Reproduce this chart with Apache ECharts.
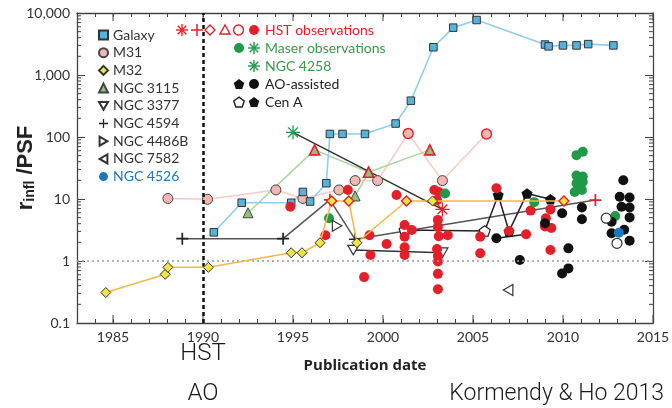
<!DOCTYPE html>
<html>
<head>
<meta charset="utf-8">
<script src="https://cdn.jsdelivr.net/npm/echarts@6/dist/echarts.min.js"></script>
<style>
  html, body { margin: 0; padding: 0; background: #fff; }
  #chart { width: 672px; height: 408px; }
</style>
</head>
<body>
<div id="chart"></div>
<script>
// ---------- axis labels ----------
const xTickLabels = [1985, 1990, 1995, 2000, 2005, 2010, 2015];
const yTickLabels = ['0.1', '1', '10', '100', '1,000', '10,000'];
const X_MIN = 1983, X_MAX = 2015, Y_MIN = 0.1, Y_MAX = 10000;

// ---------- r_infl / PSF by publication date ----------
const galaxy = [[1990.6, 2.9], [1992.15, 8.7], [1994.9, 8.7], [1995.55, 13], [1995.95, 9.1],
  [1996.85, 18], [1997.05, 112], [1997.75, 112], [1999.0, 112], [2000.7, 165], [2001.55, 385],
  [2002.8, 2800], [2003.9, 5800], [2005.2, 7700], [2009.0, 3100], [2009.2, 2900],
  [2010.0, 3000], [2010.75, 3000], [2011.4, 3150], [2012.8, 3000]];

const m31 = [[1988.05, 10.2], [1990.25, 9.9], [1994.05, 14], [1995.55, 10.2], [1997.55, 14],
  [1998.45, 19.8], [1999.7, 19.8], [2001.4, 114], [2003.3, 19.8], [2005.75, 112]];
const m31Hst = [2001.4, 2005.75];

const m32 = [[1984.6, 0.31], [1987.9, 0.61], [1988.05, 0.79], [1990.3, 0.79], [1994.9, 1.36],
  [1995.5, 1.36], [1996.5, 1.97], [1997.15, 9.3], [1998.1, 9.3], [1998.55, 1.97],
  [2001.3, 9.3], [2002.75, 9.3], [2010.05, 9.3]];
const m32Hst = [1997.15, 1998.1, 2001.3, 2010.05];

const ngc3115 = [[1992.5, 6.0], [1996.2, 62], [1999.2, 27], [2002.6, 62]];
const ngc3115b = [[1998.45, 11.2], [1999.2, 27]];
const ngc3115Hst = [1996.2, 1999.2, 2002.6];

const ngc3377 = [[1998.35, 1.5], [2003.3, 1.36]];

const ngc4594 = [[1988.85, 2.29], [1994.45, 2.29], [1997.05, 9.7], [1998.45, 2.24], [2011.8, 9.6]];
const ngc4594Hst = [1997.05, 2011.8];

const ngc4486b = [[1997.45, 3.7]];
const ngc7582 = [[2006.95, 0.34]];
const ngc4526 = [[2013.1, 2.85]];

const ngc4258 = [[1995.0, 119], [2003.3, 6.8]];
const ngc4258Hst = [2003.3];

const cenA = [[2001.2, 3.16], [2005.65, 3.05], [2006.4, 11.6], [2007.0, 3.0], [2008.0, 12.3], [2009.3, 9.9]];
const cenAOpen = [2001.2, 2005.65];

const hstPoints = [[1994.85, 7.5], [1996.8, 2.6], [1998.05, 14], [1999.25, 2.6], [2000.2, 1.88],
  [1999.3, 1.25], [1998.95, 0.55], [2000.75, 11.6], [2001.2, 3.8], [2001.6, 3.16],
  [2001.2, 2.47], [2001.2, 1.66], [2001.2, 1.25], [2002.85, 14], [2003.1, 13], [2003.0, 9.6],
  [2003.05, 4.6], [2003.05, 3.55], [2003.1, 2.5], [2003.6, 2.6], [2003.0, 1.56], [2003.05, 1.2],
  [2003.05, 0.98], [2003.05, 0.62], [2003.05, 0.35], [2005.4, 2.47], [2005.4, 1.33],
  [2006.3, 14.9], [2007.0, 3.05], [2007.95, 2.7], [2008.2, 6.5], [2009.3, 6.8], [2009.05, 4.9],
  [2009.0, 3.6], [2009.35, 3.4], [2009.3, 1.5]];

const maserPoints = [[1997.0, 4.9], [2003.45, 12.3], [2008.4, 8.9], [2010.75, 51], [2011.1, 58],
  [2010.75, 24], [2011.1, 23], [2010.75, 18], [2011.1, 19], [2010.65, 13], [2011.05, 14],
  [2012.9, 5.3]];

const aoPoints = [[2006.3, 2.33], [2007.6, 1.04], [2009.0, 4.05], [2009.95, 5.9], [2010.3, 1.6],
  [2009.95, 0.63], [2010.3, 0.76], [2011.05, 7.3], [2011.05, 4.7], [2013.35, 20], [2013.15, 10.9],
  [2013.7, 10.6], [2013.25, 7.5], [2013.7, 7.3], [2013.7, 5.05], [2012.7, 4.3], [2013.4, 3.2],
  [2012.7, 2.8], [2013.7, 2.13]];
// one object followed from an AO measurement to a later HST one
const aoFollowUp = [[2006.3, 2.33], [2007.95, 2.7]];

const aoOpen = [[2012.4, 4.9], [2013.0, 1.93]];

// ---------- styles ----------
const FONT = 'Lato, "Open Sans", sans-serif';
const AXIS = '#444';
const RED = '#e3202a';
const GREEN = '#1e9a48';
const BLUE = '#1b78bf';
const INK = '#222';

const PLUS = 'path://M4.3,0h1.4v4.3h4.3v1.4h-4.3v4.3h-1.4v-4.3h-4.3v-1.4h4.3z';
const STAR = 'path://M9.1,0H10.9V20H9.1Z M0,9.1H20V10.9H0Z M2.3,3.6L3.6,2.3L17.7,16.4L16.4,17.7Z M16.4,2.3L17.7,3.6L3.6,17.7L2.3,16.4Z';
const PENT = 'path://M10,0L19.5,6.9L15.9,18.1L4.1,18.1L0.5,6.9Z';
const TRI_DOWN = 'path://M0,0L20,0L10,17.3Z';
const TRI_RIGHT = 'path://M0,0L17.3,10L0,20Z';
const TRI_LEFT = 'path://M17.3,0L0,10L17.3,20Z';

const tagged = (pts, years, style) =>
  pts.map(p => years.includes(p[0]) ? { value: p, itemStyle: style } : p);

function lineSeries(name, data, opts) {
  return Object.assign({
    name, type: 'line', data, symbolSize: 9, showSymbol: true, animation: false,
    lineStyle: { width: 1.5 }, z: 3
  }, opts);
}
function scatterSeries(name, data, opts) {
  return Object.assign({ name, type: 'scatter', data, symbol: 'circle', symbolSize: 10, z: 4 }, opts);
}

// ---------- axis tick decorations ----------
const yMinor = [];
for (let k = -1; k < 4; k++) for (let m = 2; m <= 9; m++) yMinor.push([X_MIN, m * Math.pow(10, k)]);
const xMajor = xTickLabels.map(y => [y, Y_MIN]);

function renderYMinor(params, api) {
  const v = api.value(1);
  const l = api.coord([X_MIN, v]), r = api.coord([X_MAX, v]);
  const style = { stroke: AXIS, lineWidth: 1 };
  return { type: 'group', children: [
    { type: 'line', shape: { x1: l[0], y1: l[1], x2: l[0] + 4, y2: l[1] }, style },
    { type: 'line', shape: { x1: r[0], y1: r[1], x2: r[0] - 4, y2: r[1] }, style }
  ] };
}
function renderXMajor(params, api) {
  const v = api.value(0);
  const b = api.coord([v, Y_MIN]), t = api.coord([v, Y_MAX]);
  const style = { stroke: AXIS, lineWidth: 1 };
  return { type: 'group', children: [
    { type: 'line', shape: { x1: b[0], y1: b[1], x2: b[0], y2: b[1] - 8 }, style },
    { type: 'line', shape: { x1: t[0], y1: t[1], x2: t[0], y2: t[1] + 8 }, style }
  ] };
}

const axisLine = { show: true, lineStyle: { color: AXIS, width: 1.3 } };
const openStyle = { color: '#fff', borderColor: '#333', borderWidth: 1.2, opacity: 1 };

const chart = echarts.init(document.getElementById('chart'), null, { renderer: 'canvas' });

const option = {
  animation: false,
  backgroundColor: '#fff',
  grid: { left: 77, right: 19, top: 13, bottom: 85, containLabel: false, outerBoundsMode: 'none' },
  xAxis: [{
    type: 'value', min: X_MIN, max: X_MAX, interval: 1, position: 'bottom',
    axisLine, axisTick: { inside: true, length: 4, lineStyle: { color: AXIS } },
    axisLabel: { formatter: v => xTickLabels.includes(v) ? String(v) : '', margin: 7,
      fontSize: 14, color: '#333', fontFamily: FONT },
    splitLine: { show: false },
    name: 'Publication date', nameLocation: 'middle', nameGap: 35, nameMoveOverlap: false,
    nameTextStyle: { fontWeight: 'bold', fontSize: 15, color: INK, fontFamily: '"Open Sans", Lato, sans-serif' }
  }, {
    type: 'value', min: X_MIN, max: X_MAX, interval: 1, position: 'top',
    axisLine, axisTick: { inside: true, length: 4, lineStyle: { color: AXIS } },
    axisLabel: { show: false }, splitLine: { show: false }
  }],
  yAxis: [{
    type: 'log', logBase: 10, min: Y_MIN, max: Y_MAX, position: 'left',
    axisLine, axisTick: { inside: true, length: 8, lineStyle: { color: AXIS } },
    axisLabel: { formatter: v => yTickLabels[Math.round(Math.log10(v)) + 1], margin: 7,
      fontSize: 14, color: '#333', fontFamily: FONT },
    splitLine: { show: false },
    name: '{r|r}{s|infl}{r| /PSF}', nameLocation: 'middle', nameGap: 40, nameRotate: 90,
    nameMoveOverlap: false,
    nameTextStyle: { rich: {
      r: { fontSize: 22, fontWeight: 'bold', color: INK, fontFamily: '"Liberation Sans", Arial, sans-serif', verticalAlign: 'bottom', lineHeight: 24 },
      s: { fontSize: 14, fontWeight: 'bold', color: INK, fontFamily: '"Liberation Sans", Arial, sans-serif', verticalAlign: 'bottom', lineHeight: 20 }
    } }
  }, {
    type: 'log', logBase: 10, min: Y_MIN, max: Y_MAX, position: 'right',
    axisLine, axisTick: { inside: true, length: 8, lineStyle: { color: AXIS } },
    axisLabel: { show: false }, splitLine: { show: false }
  }],
  legend: {
    orient: 'vertical', left: 93, top: 23, itemWidth: 9, itemHeight: 9, itemGap: 3.7,
    selectedMode: false,
    textStyle: { fontSize: 14, color: '#333', fontFamily: FONT, lineHeight: 14 },
    data: [
      { name: 'Galaxy', icon: 'rect' },
      { name: 'M31', icon: 'circle' },
      { name: 'M32', icon: 'diamond' },
      { name: 'NGC 3115', icon: 'triangle' },
      { name: 'NGC 3377', icon: TRI_DOWN },
      { name: 'NGC 4594', icon: PLUS },
      { name: 'NGC 4486B', icon: TRI_RIGHT },
      { name: 'NGC 7582', icon: TRI_LEFT },
      { name: 'NGC 4526', icon: 'circle', textStyle: { color: BLUE } }
    ]
  },
  series: [
    { type: 'custom', name: 'yMinor', data: yMinor, renderItem: renderYMinor, silent: true, z: 1 },
    { type: 'custom', name: 'xMajor', data: xMajor, renderItem: renderXMajor, silent: true, z: 1,
      markLine: {
        silent: true, symbol: 'none', label: { show: false }, animation: false,
        data: [
          { xAxis: 1990, lineStyle: { type: [4, 3], width: 2.5, color: '#111' } },
          { yAxis: 1, lineStyle: { type: [2, 3], width: 1.5, color: '#999' } }
        ]
      } },
    lineSeries('M31', tagged(m31, m31Hst, { borderColor: RED, borderWidth: 1.4 }), {
      symbol: 'circle', symbolSize: 10,
      itemStyle: { color: '#f3b7b2', borderColor: '#444', borderWidth: 1 },
      lineStyle: { width: 1.5, color: '#f7cbc5' }
    }),
    lineSeries('NGC 3115', tagged(ngc3115, ngc3115Hst, { borderColor: RED, borderWidth: 1.6 }), {
      symbol: 'triangle', symbolSize: 10,
      itemStyle: { color: '#8cc47c', borderColor: '#444', borderWidth: 1 },
      lineStyle: { width: 1.5, color: '#a9d79c' }
    }),
    lineSeries('NGC 3115', tagged(ngc3115b, ngc3115Hst, { borderColor: RED, borderWidth: 1.6 }), {
      symbol: 'triangle', symbolSize: 10,
      itemStyle: { color: '#8cc47c', borderColor: '#444', borderWidth: 1 },
      lineStyle: { width: 1.5, color: '#a9d79c' }
    }),
    lineSeries('Galaxy', galaxy, {
      symbol: 'rect', symbolSize: 7.5,
      itemStyle: { color: '#55b3dc', borderColor: '#333', borderWidth: 1 },
      lineStyle: { width: 1.6, color: '#8fcfea' }
    }),
    lineSeries('NGC 4594', tagged(ngc4594, ngc4594Hst, { color: RED }), {
      symbol: PLUS, symbolSize: 12,
      itemStyle: { color: '#222' },
      lineStyle: { width: 1.5, color: '#555' }
    }),
    lineSeries('NGC 4258', tagged(ngc4258, ngc4258Hst, { color: RED }), {
      symbol: STAR, symbolSize: 14,
      itemStyle: { color: GREEN },
      lineStyle: { width: 1.5, color: '#333' }
    }),
    lineSeries('Cen A', tagged(cenA, cenAOpen, { color: '#fff', borderColor: '#222', borderWidth: 1.2 }), {
      symbol: PENT, symbolSize: 11, symbolKeepAspect: true,
      itemStyle: { color: '#111' },
      lineStyle: { width: 1.5, color: '#222' }
    }),
    lineSeries('NGC 3377', ngc3377, {
      symbol: TRI_DOWN, symbolSize: 11, symbolKeepAspect: true,
      itemStyle: { color: '#fff', borderColor: '#333', borderWidth: 1.2 },
      lineStyle: { width: 1.5, color: '#333' }
    }),
    lineSeries('AO follow-up', aoFollowUp, {
      showSymbol: false, symbol: 'none', itemStyle: { color: '#222' },
      lineStyle: { width: 1.5, color: '#222' }
    }),
    scatterSeries('HST observations', hstPoints, { itemStyle: { color: RED, opacity: 1 } }),
    scatterSeries('Maser observations', maserPoints, { itemStyle: { color: GREEN, opacity: 1 } }),
    scatterSeries('AO-assisted', aoPoints, { itemStyle: { color: '#111', opacity: 1 } }),
    scatterSeries('AO open', aoOpen, { itemStyle: openStyle }),
    lineSeries('M32', tagged(m32, m32Hst, { borderColor: RED, borderWidth: 1.4 }), {
      symbol: 'diamond', symbolSize: 10,
      itemStyle: { color: '#f1e443', borderColor: '#333', borderWidth: 1 },
      lineStyle: { width: 1.5, color: '#f3b846' }, z: 5
    }),
    scatterSeries('NGC 4486B', ngc4486b, { symbol: TRI_RIGHT, symbolSize: 11, symbolKeepAspect: true,
      itemStyle: openStyle, z: 5 }),
    scatterSeries('NGC 7582', ngc7582, { symbol: TRI_LEFT, symbolSize: 11, symbolKeepAspect: true,
      itemStyle: openStyle, z: 5 }),
    scatterSeries('NGC 4526', ngc4526, { itemStyle: { color: BLUE, opacity: 1 }, z: 5 })
  ]
};

chart.setOption(option);

// ---------- key for observation types, and annotations ----------
function glyph(kind, cx, cy, color, open) {
  const s = { fill: open ? '#fff' : color, stroke: color, lineWidth: open ? 1.4 : 0 };
  const r = 5;
  switch (kind) {
    case 'circle': return { type: 'circle', shape: { cx, cy, r }, style: s };
    case 'diamond': return { type: 'polygon', shape: { points: [[cx, cy - r], [cx + r, cy], [cx, cy + r], [cx - r, cy]] }, style: s };
    case 'triangle': return { type: 'polygon', shape: { points: [[cx, cy - r], [cx + r, cy + r * 0.8], [cx - r, cy + r * 0.8]] }, style: s };
    case 'pent': {
      const pts = [];
      for (let i = 0; i < 5; i++) {
        const a = -Math.PI / 2 + i * 2 * Math.PI / 5;
        pts.push([cx + r * 1.1 * Math.cos(a), cy + 0.6 + r * 1.1 * Math.sin(a)]);
      }
      return { type: 'polygon', shape: { points: pts }, style: s };
    }
    case 'plus': return { type: 'group', children: [
      { type: 'line', shape: { x1: cx - r - 1, y1: cy, x2: cx + r + 1, y2: cy }, style: { stroke: color, lineWidth: 1.5 } },
      { type: 'line', shape: { x1: cx, y1: cy - r - 1, x2: cx, y2: cy + r + 1 }, style: { stroke: color, lineWidth: 1.5 } }] };
    case 'star': return { type: 'group', children: [0, 45, 90, 135].map(d => {
      const a = d * Math.PI / 180, L = r + 1;
      return { type: 'line', shape: { x1: cx - L * Math.cos(a), y1: cy - L * Math.sin(a), x2: cx + L * Math.cos(a), y2: cy + L * Math.sin(a) },
        style: { stroke: color, lineWidth: 1.4 } };
    }) };
  }
}
function label(text, x, y, color) {
  return { type: 'text', x, y, style: { text, fill: color, font: '14px ' + FONT, align: 'left', verticalAlign: 'middle' } };
}

const x1990 = chart.convertToPixel({ xAxisIndex: 0 }, 1990);
const BIG = '300 24px Roboto, "Liberation Sans", sans-serif';
const graphics = [
  glyph('star', 182, 30, RED), glyph('plus', 197, 30, RED), glyph('diamond', 210, 30, RED, true),
  glyph('triangle', 225, 30, RED, true), glyph('circle', 238.5, 30, RED, true), glyph('circle', 254, 30, RED),
  label('HST observations', 265, 30, RED),
  glyph('circle', 239, 48, GREEN), glyph('star', 254, 48, GREEN),
  label('Maser observations', 265, 48, '#3a9a48'),
  glyph('star', 254, 66, GREEN),
  label('NGC 4258', 265, 66, '#3a9a48'),
  glyph('pent', 239, 84, '#111'), glyph('circle', 254, 84, '#111'),
  label('AO-assisted', 265, 84, INK),
  glyph('pent', 239, 102, '#222', true), glyph('pent', 254, 102, '#111'),
  label('Cen A', 265, 102, INK),
  { type: 'text', x: x1990, y: 354, style: { text: 'HST', fill: '#1a1a1a', font: BIG, align: 'center', verticalAlign: 'middle' } },
  { type: 'text', x: x1990, y: 394, style: { text: 'AO', fill: '#1a1a1a', font: BIG, align: 'center', verticalAlign: 'middle' } },
  { type: 'text', x: 664, y: 394, style: { text: 'Kormendy & Ho 2013', fill: '#1a1a1a', font: '300 23px Roboto, "Liberation Sans", sans-serif', align: 'right', verticalAlign: 'middle' } }
];
chart.setOption({ graphic: { elements: graphics } });
</script>
</body>
</html>
